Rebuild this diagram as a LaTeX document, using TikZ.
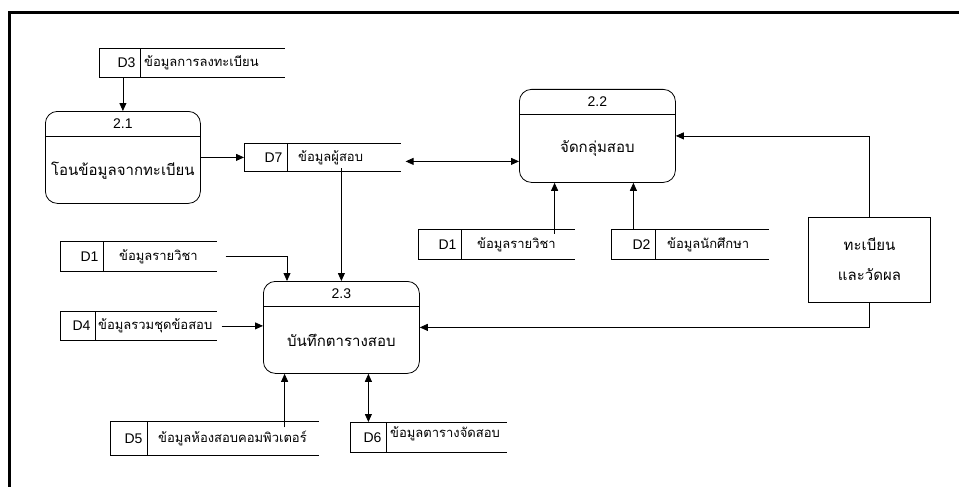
\documentclass[tikz,border=0pt]{standalone}
\usepackage{fontspec}
\setmainfont{Liberation Sans}
\newfontfamily\thaifont[Script=Thai]{Loma}
\usetikzlibrary{positioning,arrows.meta,calc}
\tikzset{>={Triangle[length=8pt,width=7pt]}}

\begin{document}
\begin{tikzpicture}[x=1pt, y=-1pt, line width=0.8pt,
    proc/.style={draw, rounded corners=12pt, anchor=north west},
    pnum/.style={font=\fontsize{14}{16}\selectfont},
    pname/.style={font=\thaifont\fontsize{15}{18}\selectfont},
    sid/.style={draw, anchor=north west, inner xsep=5pt, text width=#1, align=right, font=\fontsize{14}{16}\selectfont},
    sname/.style={anchor=west, inner xsep=0pt, text width=#1, align=left, font=\thaifont\fontsize{13}{15}\selectfont},
    ext/.style={draw, align=center, font=\thaifont\fontsize{15}{30}\selectfont}]
    \useasboundingbox (0,0) rectangle (959,487);
    \draw[line width=3pt] (9,487) -- (9,13) -- (959,13); %frame
    % processes
    \node[proc, minimum width=155pt, minimum height=92pt] (p21) at (45,111) {};
    \draw ([yshift=-25pt]p21.north west) -- ([yshift=-25pt]p21.north east);
    \node[pnum] at ([yshift=-12.5pt]p21.north) {2.1};
    \node[pname] at ([yshift=33.5pt]p21.south) {โอนข้อมูลจากทะเบียน};
    \node[proc, minimum width=156pt, minimum height=93pt] (p22) at (519,89) {};
    \draw ([yshift=-25pt]p22.north west) -- ([yshift=-25pt]p22.north east);
    \node[pnum] at ([yshift=-12.5pt]p22.north) {2.2};
    \node[pname] at ([yshift=34pt]p22.south) {จัดกลุ่มสอบ};
    \node[proc, minimum width=156pt, minimum height=92pt] (p23) at (263,281) {};
    \draw ([yshift=-25pt]p23.north west) -- ([yshift=-25pt]p23.north east);
    \node[pnum] at ([yshift=-12.5pt]p23.north) {2.3};
    \node[pname] at ([yshift=33.5pt]p23.south) {บันทึกตารางสอบ};
    \node[ext, minimum width=122pt, minimum height=85pt] (reg) at (869.5,259.5) {ทะเบียน\\และวัดผล};
    % data stores
    \node[sid=31pt, minimum height=29pt] (d3) at (99,48) {D3};
    \node[sname=140pt] (d3n) at ([xshift=3pt]d3.east) {ข้อมูลการลงทะเบียน};
    \node[sid=33pt, minimum height=28pt] (d7) at (244,143) {D7};
    \node[sname=102pt] (d7n) at ([xshift=10pt]d7.east) {ข้อมูลผู้สอบ};
    \node[sid=33pt, minimum height=30pt] (d1a) at (60,241) {D1};
    \node[sname=97pt] (d1an) at ([xshift=15pt]d1a.east) {ข้อมูลรายวิชา};
    \node[sid=25pt, minimum height=29pt] (d4) at (60,311) {D4};
    \node[sname=118pt] (d4n) at ([xshift=2pt]d4.east) {ข้อมูลรวมชุดข้อสอบ};
    \node[sid=27pt, minimum height=34pt] (d5) at (110,421) {D5};
    \node[sname=160pt] (d5n) at ([xshift=10pt]d5.east) {ข้อมูลห้องสอบคอมพิวเตอร์};
    \node[sid=26pt, minimum height=30pt] (d6) at (350,422) {D6};
    \node[sname=116pt] (d6n) at ([shift={(3pt,4pt)}]d6.east) {ข้อมูลตารางจัดสอบ};
    \node[sid=33pt, minimum height=30pt] (d1b) at (418,229) {D1};
    \node[sname=97pt] (d1bn) at ([xshift=15pt]d1b.east) {ข้อมูลรายวิชา};
    \node[sid=34pt, minimum height=30pt] (d2) at (611,229) {D2};
    \node[sname=101pt] (d2n) at ([xshift=11pt]d2.east) {ข้อมูลนักศึกษา};
    \foreach \s in {d3,d7,d1a,d4,d5,d6,d1b,d2}
        \draw (\s.north east) -- (\s.north east -| \s n.east)
              (\s.south east) -- (\s.south east -| \s n.east);
    % flows
    \draw[->] (d3.south -| p21.north) -- (p21.north);
    \draw[->] (p21.east) -- (d7.west);
    \draw[<->] ([shift={(5pt,-4pt)}]d7n.east) -- ([yshift=-4pt]d7n.east -| p22.west);
    \draw[->] (reg.north) |- (p22.east);
    \draw[->] ([xshift=-20pt]d1bn.north east) -- ([xshift=-20pt]d1bn.north east |- p22.south);
    \draw[->] (d2.north) -- (d2.north |- p22.south);
    \draw[->] (d7n.south -| p23.north) -- (p23.north);
    \draw[->] ([xshift=9pt]d1an.east) -| ([xshift=24pt]p23.north west);
    \draw[->] ([xshift=5pt]d4n.east) -- (d4n.east -| p23.west);
    \draw[->] (reg.south) |- (p23.east);
    \draw[->] ([xshift=-34pt]d5n.north east) -- ([xshift=-34pt]d5n.north east |- p23.south);
    \draw[<->] (d6.north) -- (d6.north |- p23.south);
\end{tikzpicture}
\end{document}
